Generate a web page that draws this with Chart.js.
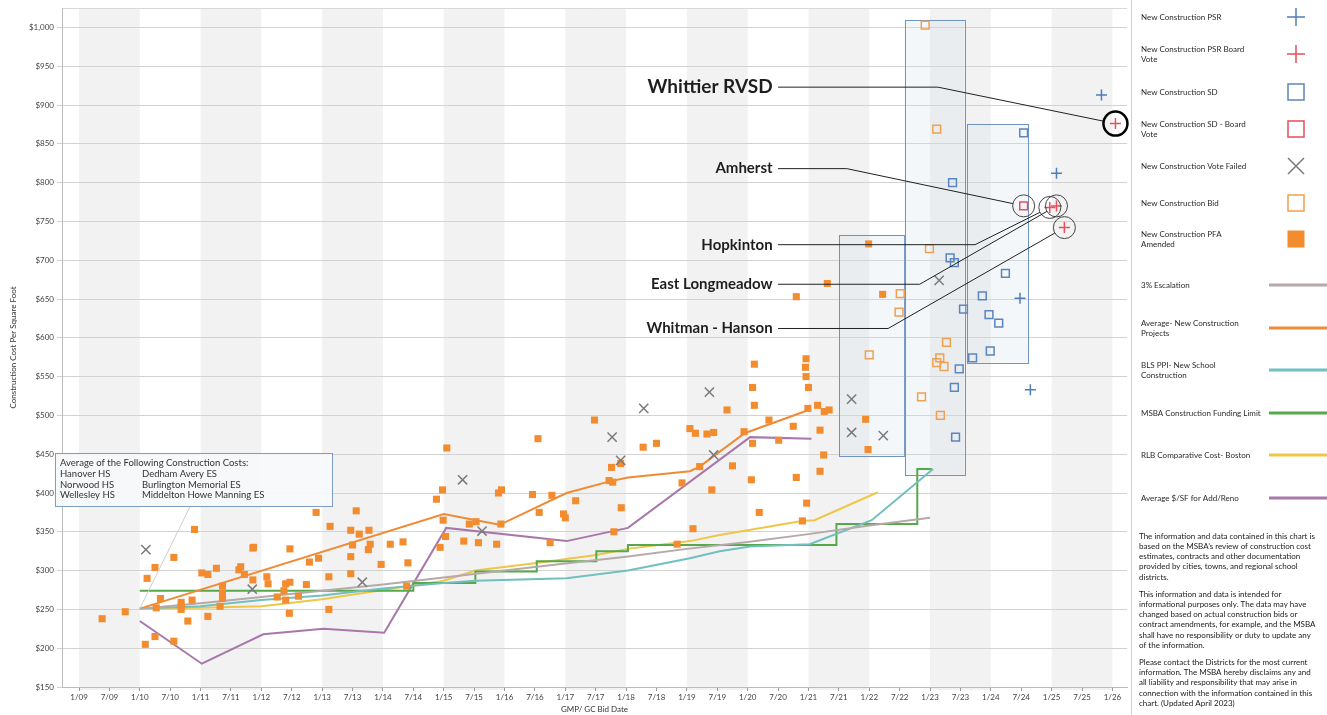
<html>
<head>
<script src="https://cdn.jsdelivr.net/npm/chart.js@4.4.0/dist/chart.umd.min.js"></script>
<style>
  body { margin: 0; background: #fff; }
  #wrap { position: relative; width: 1327px; height: 715px; }
</style>
</head>
<body>
<div id="wrap"><canvas id="myChart" width="1327" height="715"></canvas></div>
<script>
// x values are decimal years (2009.5 = July 2009)
const xTickValues = [2009,2009.5,2010,2010.5,2011,2011.5,2012,2012.5,2013,2013.5,2014,2014.5,2015,2015.5,2016,2016.5,2017,2017.5,2018,2018.5,2019,2019.5,2020,2020.5,2021,2021.5,2022,2022.5,2023,2023.5,2024,2024.5,2025,2025.5,2026];
const xTickLabels = ['1/09','7/09','1/10','7/10','1/11','7/11','1/12','7/12','1/13','7/13','1/14','7/14','1/15','7/15','1/16','7/16','1/17','7/17','1/18','7/18','1/19','7/19','1/20','7/20','1/21','7/21','1/22','7/22','1/23','7/23','1/24','7/24','1/25','7/25','1/26'];
const yTickValues = [150,200,250,300,350,400,450,500,550,600,650,700,750,800,850,900,950,1000];

const psrPoints = [[2024.48,651],[2024.65,533],[2025.08,812],[2025.82,913]];
const psrBoardPoints = [[2024.97,768],[2025.08,770],[2025.21,742],[2026.05,876]];
const sdPoints = [[2023.33,703],[2023.37,800],[2023.40,697],[2023.40,536],[2023.42,472],[2023.48,560],[2023.55,637],[2023.70,574],[2023.86,654],[2023.97,630],[2023.99,583],[2024.13,619],[2024.24,683],[2024.54,864]];
const sdBoardPoints = [[2024.54,770]];
const failedPoints = [[2010.10,327],[2011.85,276],[2013.66,285],[2015.31,417],[2015.63,351],[2017.77,472],[2017.91,442],[2018.29,509],[2019.37,530],[2019.44,449],[2021.71,521],[2021.71,478],[2022.23,474],[2023.15,674]];
const bidPoints = [[2022.00,578],[2022.49,633],[2022.51,657],[2022.86,524],[2022.92,1003],[2022.99,715],[2023.11,869],[2023.11,568],[2023.16,574],[2023.17,500],[2023.23,563],[2023.27,594]];
const pfaPoints = [
  [2009.38,238],[2009.76,247],
  [2010.09,205],[2010.12,290],[2010.25,304],[2010.25,215],[2010.27,252],[2010.34,264],[2010.56,317],[2010.56,209],
  [2010.68,259],[2010.68,254],[2010.68,250],[2010.79,235],[2010.86,262],[2010.90,353],
  [2011.02,297],[2011.12,295],[2011.12,241],[2011.26,303],[2011.32,254],[2011.36,280],[2011.36,271],[2011.36,264],
  [2011.63,301],[2011.66,305],[2011.72,295],[2011.86,329],[2011.87,330],[2011.86,288],
  [2012.09,292],[2012.11,283],[2012.26,266],[2012.37,274],[2012.40,262],[2012.40,283],[2012.47,285],[2012.47,328],
  [2012.46,245],[2012.61,267],[2012.74,282],[2012.79,311],[2012.90,375],[2012.94,316],
  [2013.11,292],[2013.11,250],[2013.13,357],[2013.47,352],[2013.47,318],[2013.47,296],[2013.50,333],[2013.56,377],
  [2013.61,347],[2013.76,327],[2013.77,352],[2013.79,334],[2013.97,308],
  [2014.12,334],[2014.33,337],[2014.39,280],[2014.41,310],
  [2014.88,392],[2014.94,330],[2014.98,404],[2014.99,365],[2015.03,344],[2015.05,458],
  [2015.33,338],[2015.42,360],[2015.53,363],[2015.57,336],[2015.87,334],[2015.90,400],[2015.94,360],[2015.95,404],
  [2016.46,398],[2016.55,470],[2016.57,375],[2016.75,336],[2016.78,397],[2016.97,373],[2017.00,368],[2017.17,390],
  [2017.48,494],[2017.72,416],[2017.76,433],[2017.78,414],[2017.80,350],[2017.91,438],[2017.92,381],
  [2018.28,459],[2018.50,464],[2018.84,334],[2018.92,413],
  [2019.05,483],[2019.10,354],[2019.14,477],[2019.21,434],[2019.33,476],[2019.41,404],[2019.44,478],
  [2019.66,507],[2019.75,435],[2019.94,479],[2020.06,417],[2020.08,536],[2020.08,464],[2020.11,566],[2020.11,513],
  [2020.19,375],[2020.35,494],[2020.51,468],[2020.75,486],[2020.80,420],[2020.80,653],[2020.90,364],
  [2020.95,562],[2020.96,573],[2020.96,550],[2020.97,387],[2020.99,509],[2021.00,536],
  [2021.15,513],[2021.19,481],[2021.19,428],[2021.25,449],[2021.26,505],[2021.31,670],[2021.34,507],
  [2021.94,495],[2021.98,456],[2021.99,721],[2022.22,656]
];

const escalationLine = [[2010,251],[2011,258],[2012,266],[2013,274],[2014,282],[2015,291],[2016,300],[2017,309],[2018,318],[2019,328],[2020,337],[2021,347],[2022,358],[2023,368]];
const avgNewLine = [[2010,251],[2015.0,373],[2015.92,359],[2017.02,400],[2017.73,415],[2018.03,420],[2019.05,428],[2019.21,434],[2019.95,477],[2020.97,506]];
const blsLine = [[2010,251],[2011,254],[2012,262],[2013,268],[2014,277],[2015,284],[2015.52,287],[2017.02,290],[2018.03,300],[2019.05,316],[2019.54,325],[2020.04,331],[2021.02,334],[2022.04,365],[2023.05,431]];
const msbaLine = [[2010,274],[2014.5,284],[2015.52,299],[2016.53,312],[2017.51,325],[2018.03,333],[2021.46,360],[2022.79,431],[2023.03,431]];
const rlbLine = [[2010,251],[2011,252],[2012,254],[2013,263],[2014,275],[2015,287],[2015.52,300],[2016.46,309],[2017.51,320],[2018.03,328],[2019.05,338],[2019.54,346],[2020.89,364],[2021.1,365],[2022.14,401]];
const addRenoLine = [[2010,235],[2011.02,180],[2012.03,218],[2013.02,225],[2014.02,220],[2015.04,355],[2017.02,338],[2018.03,355],[2020.04,472],[2021.05,470]];

// estimate ranges: [fromYear, toYear, low $, high $]
const rangeBoxes = [[2021.50,2022.57,447,732],[2022.58,2023.56,424,1010],[2023.60,2024.61,568,876]];

const callouts = [
  { text: 'Whittier RVSD', point: psrBoardPoints[3], labelY: 923, bend: 2023.13, size: 19, r: 12, ring: 2.5 },
  { text: 'Amherst', point: sdBoardPoints[0], labelY: 818, bend: 2021.63, size: 15, r: 11, ring: 1 },
  { text: 'Hopkinton', point: psrBoardPoints[0], labelY: 720, bend: 2023.74, size: 15, r: 11, ring: 1 },
  { text: 'East Longmeadow', point: psrBoardPoints[1], labelY: 669, bend: 2022.83, size: 15, r: 11, ring: 1 },
  { text: 'Whitman - Hanson', point: psrBoardPoints[2], labelY: 612, bend: 2022.31, size: 15, r: 11, ring: 1 }
];

const avgBoxTitle = 'Average of the Following Construction Costs:';
const avgBoxLeft = ['Hanover HS', 'Norwood HS', 'Wellesley HS'];
const avgBoxRight = ['Dedham Avery ES', 'Burlington Memorial ES', 'Middelton Howe Manning ES'];

const disclaimer = [
  ['The information and data contained in this chart is', 'based on the MSBA\u2019s review of construction cost', 'estimates, contracts and other documentation', 'provided by cities, towns, and regional school', 'districts.'],
  ['This information and data is intended for', 'informational purposes only. The data may have', 'changed based on actual construction bids or', 'contract amendments, for example, and the MSBA', 'shall have no responsibility or duty to update any', 'of the information.'],
  ['Please contact the Districts for the most current', 'information. The MSBA hereby disclaims any and', 'all liability and responsibility that may arise in', 'connection with the information contained in this', 'chart. (Updated April 2023)']
];

const FONT = 'Lato, "Liberation Sans", sans-serif';
const legendRows = [17, 54, 92, 129, 166, 203, 239, 285, 328, 370, 413, 455, 498];

const toXY = a => a.map(p => ({ x: p[0], y: p[1] }));
const px = (c, t) => c.scales.x.getPixelForValue(t);
const py = (c, v) => c.scales.y.getPixelForValue(v);

function pts(label, data, style, color, r, filled) {
  return {
    label: label, data: toXY(data), pointStyle: style, pointRadius: r, pointHoverRadius: r,
    borderColor: color, backgroundColor: filled ? color : 'rgba(0,0,0,0)',
    pointBorderWidth: filled ? 0 : 1.5, borderWidth: filled ? 0 : 1.5, filled: filled
  };
}
function line(label, data, color, stepped) {
  return {
    type: 'line', label: label, data: toXY(data), borderColor: color, backgroundColor: color,
    borderWidth: 2, pointRadius: 0, pointHoverRadius: 0, fill: false, tension: 0, stepped: stepped || false
  };
}

const datasets = [
  pts('New Construction PSR', psrPoints, 'cross', '#4f7db9', 5.5, false),
  pts('New Construction PSR Board\nVote', psrBoardPoints, 'cross', '#e4505c', 5.5, false),
  pts('New Construction SD', sdPoints, 'rect', '#5b85bd', 5.5, false),
  pts('New Construction SD - Board\nVote', sdBoardPoints, 'rect', '#e4505c', 5.5, false),
  pts('New Construction Vote Failed', failedPoints, 'crossRot', '#7a7a7a', 6.5, false),
  pts('New Construction Bid', bidPoints, 'rect', '#f0a04f', 5.5, false),
  pts('New Construction PFA\nAmended', pfaPoints, 'rect', '#f28c2e', 5, true),
  line('3% Escalation', escalationLine, '#b5aaa9'),
  line('Average- New Construction\nProjects', avgNewLine, '#f08a34'),
  line('BLS PPI- New School\nConstruction', blsLine, '#72bfc0'),
  line('MSBA Construction Funding Limit', msbaLine, '#55a94a', 'before'),
  line('RLB Comparative Cost- Boston', rlbLine, '#efc648'),
  line('Average $/SF for Add/Reno', addRenoLine, '#a877ab')
];

function drawSymbol(ctx, ds, x, y) {
  ctx.save();
  ctx.strokeStyle = ds.borderColor;
  ctx.fillStyle = ds.borderColor;
  ctx.lineWidth = 1.5;
  ctx.beginPath();
  if (ds.type === 'line') {
    ctx.lineWidth = 3;
    ctx.moveTo(1269, y); ctx.lineTo(1327, y); ctx.stroke();
  } else if (ds.pointStyle === 'cross') {
    ctx.moveTo(x - 9, y); ctx.lineTo(x + 9, y); ctx.moveTo(x, y - 9); ctx.lineTo(x, y + 9); ctx.stroke();
  } else if (ds.pointStyle === 'crossRot') {
    ctx.moveTo(x - 8, y - 8); ctx.lineTo(x + 8, y + 8); ctx.moveTo(x + 8, y - 8); ctx.lineTo(x - 8, y + 8); ctx.stroke();
  } else if (ds.filled) {
    ctx.fillRect(x - 8.5, y - 8.5, 17, 17);
  } else {
    ctx.strokeRect(x - 8, y - 8, 16, 16);
  }
  ctx.restore();
}

const decor = {
  id: 'decor',
  beforeDraw(c) {
    const { ctx, chartArea: a } = c;
    ctx.save();
    ctx.fillStyle = '#fff';
    ctx.fillRect(0, 0, c.width, c.height);
    ctx.fillStyle = '#f2f2f2';
    for (let yr = 2009; yr < 2026; yr += 2) {
      const x1 = Math.max(a.left, px(c, yr)), x2 = Math.min(a.right, px(c, yr + 1));
      ctx.fillRect(x1, a.top, x2 - x1, a.bottom - a.top + 3);
    }
    ctx.strokeStyle = '#d8d8d8';
    ctx.lineWidth = 1;
    ctx.beginPath(); ctx.moveTo(a.left, a.top + 0.5); ctx.lineTo(a.right, a.top + 0.5); ctx.stroke();
    ctx.restore();
  },
  beforeDatasetsDraw(c) {
    const { ctx } = c;
    ctx.save();
    rangeBoxes.forEach(b => {
      const x1 = px(c, b[0]), x2 = px(c, b[1]), y1 = py(c, b[3]), y2 = py(c, b[2]);
      ctx.fillStyle = 'rgba(214,226,238,0.28)';
      ctx.fillRect(x1, y1, x2 - x1, y2 - y1);
      ctx.strokeStyle = '#6f93c2';
      ctx.lineWidth = 1;
      ctx.strokeRect(Math.round(x1) + 0.5, Math.round(y1) + 0.5, Math.round(x2 - x1), Math.round(y2 - y1));
    });
    ctx.restore();
  },
  afterDatasetsDraw(c) {
    const { ctx } = c;
    ctx.save();
    const textRight = px(c, 2020.41), lineStart = px(c, 2020.5);
    callouts.forEach(o => {
      const tx = px(c, o.point[0]), ty = py(c, o.point[1]);
      const ly = py(c, o.labelY), bx = px(c, o.bend);
      const dx = tx - bx, dy = ty - ly, len = Math.hypot(dx, dy);
      ctx.strokeStyle = '#222';
      ctx.lineWidth = 1;
      ctx.beginPath();
      ctx.moveTo(lineStart, ly); ctx.lineTo(bx, ly);
      ctx.lineTo(tx - dx / len * o.r, ty - dy / len * o.r);
      ctx.stroke();
      ctx.lineWidth = o.ring;
      ctx.strokeStyle = o.ring > 1 ? '#000' : '#444';
      ctx.beginPath(); ctx.arc(tx, ty, o.r, 0, Math.PI * 2); ctx.stroke();
      ctx.fillStyle = '#1e1e1e';
      ctx.font = 'bold ' + o.size + 'px ' + FONT;
      ctx.textAlign = 'right'; ctx.textBaseline = 'middle';
      ctx.fillText(o.text, textRight, ly);
    });
    ctx.restore();
  },
  afterDraw(c) {
    const { ctx, chartArea: a } = c;
    ctx.save();
    // leader from the averages box to the first average point
    ctx.strokeStyle = '#cfcfcf';
    ctx.lineWidth = 1;
    ctx.beginPath();
    ctx.moveTo(px(c, avgNewLine[0][0]), py(c, avgNewLine[0][1]));
    ctx.lineTo(px(c, 2010.83), py(c, 383));
    ctx.stroke();
    // averages box
    const bl = a.left - 7, bt = py(c, 451), br = px(c, 2013.16), bb = py(c, 383);
    ctx.fillStyle = 'rgba(246,248,250,0.92)';
    ctx.fillRect(bl, bt, br - bl, bb - bt);
    ctx.strokeStyle = '#7c9dc6';
    ctx.strokeRect(bl + 0.5, Math.round(bt) + 0.5, Math.round(br - bl), Math.round(bb - bt));
    ctx.fillStyle = '#333';
    ctx.font = '9.5px ' + FONT;
    ctx.textAlign = 'left'; ctx.textBaseline = 'middle';
    ctx.fillText(avgBoxTitle, bl + 5, bt + 10);
    avgBoxLeft.forEach((t, i) => {
      ctx.fillText(t, bl + 5, bt + 21 + i * 10.5);
      ctx.fillText(avgBoxRight[i], bl + 87, bt + 21 + i * 10.5);
    });

    // legend
    ctx.strokeStyle = '#d0d0d0';
    ctx.beginPath(); ctx.moveTo(1131.5, 0); ctx.lineTo(1131.5, 715); ctx.stroke();
    ctx.font = '8px ' + FONT;
    ctx.fillStyle = '#2a2a2a';
    c.data.datasets.forEach((ds, i) => {
      const y = legendRows[i];
      const lines = ds.label.split('\n');
      lines.forEach((t, k) => ctx.fillText(t, 1141, y + (k - (lines.length - 1) / 2) * 10));
      drawSymbol(ctx, ds, 1296, y);
    });
    // disclaimer
    ctx.fillStyle = '#1a1a1a';
    let y = 536;
    disclaimer.forEach(par => {
      par.forEach(t => { ctx.fillText(t, 1139, y); y += 10.3; });
      y += 6.5;
    });
    ctx.restore();
  }
};

new Chart(document.getElementById('myChart'), {
  type: 'scatter',
  data: { datasets: datasets },
  options: {
    responsive: false,
    animation: false,
    layout: { padding: { left: 0, right: 200, top: 5, bottom: 0 } },
    plugins: { legend: { display: false }, tooltip: { enabled: false } },
    scales: {
      x: {
        type: 'linear', min: 2008.72, max: 2026.24,
        afterBuildTicks: s => { s.ticks = xTickValues.map(v => ({ value: v })); },
        afterFit: s => { s.height = 28; },
        ticks: {
          autoSkip: false, maxRotation: 0, padding: 2, color: '#444',
          font: { family: FONT, size: 8 },
          callback: (v, i) => xTickLabels[i]
        },
        grid: { drawOnChartArea: false, tickLength: 4, color: '#999' },
        border: { color: '#bbb' },
        title: { display: true, text: 'GMP/ GC Bid Date', color: '#333', font: { family: FONT, size: 8 }, padding: { top: 0, bottom: 1 } }
      },
      y: {
        type: 'linear', min: 150, max: 1025,
        afterBuildTicks: s => { s.ticks = yTickValues.map(v => ({ value: v })); },
        afterFit: s => { s.width = 62; },
        ticks: {
          padding: 3, color: '#444', font: { family: FONT, size: 8 },
          callback: v => '$' + v.toLocaleString('en-US')
        },
        grid: { color: '#d2d2d2', tickLength: 5 },
        border: { color: '#bbb' },
        title: { display: true, text: 'Construction Cost Per Square Foot', color: '#333', font: { family: FONT, size: 8 }, padding: { top: 9, bottom: 0 } }
      }
    }
  },
  plugins: [decor]
});
</script>
</body>
</html>
